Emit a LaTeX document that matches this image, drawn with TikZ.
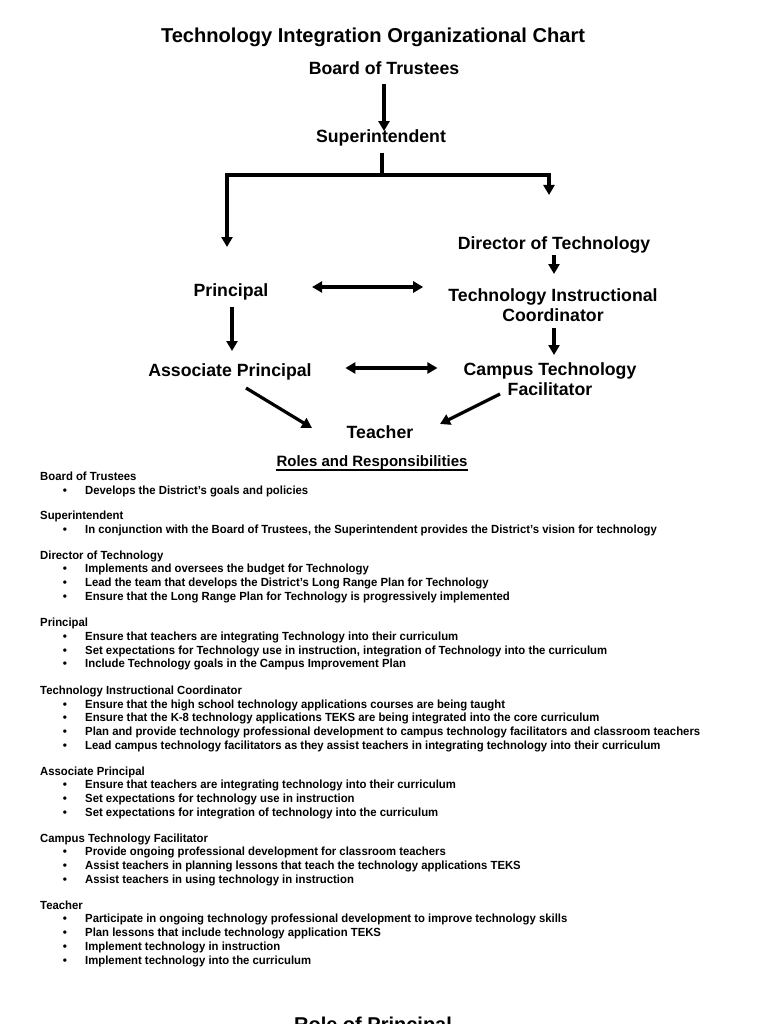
\documentclass[tikz,border=0pt]{standalone}
\usepackage{fontspec}
\setmainfont{Liberation Sans}
\newfontfamily\narrowf[FakeStretch=0.96]{Liberation Sans}
\usetikzlibrary{arrows.meta}
\tikzset{
  ch/.style={font=\fontsize{17.7}{20}\selectfont\bfseries, inner sep=0pt, text height=12.7pt, text depth=0pt, align=center},
  arr/.style={line width=3.2pt, -{Triangle[length=10pt,width=11pt]}},
  darr/.style={line width=3.2pt, {Triangle[length=10pt,width=11pt]}-{Triangle[length=10pt,width=11pt]}},
  plain/.style={line width=3.2pt},
  hd/.style={font=\narrowf\fontsize{11.8}{13}\selectfont\bfseries, anchor=west, inner sep=0pt, text height=8.5pt, text depth=0pt},
  bul/.style={font=\fontsize{11.8}{13}\selectfont\bfseries, anchor=center, inner sep=0pt, text height=8.5pt, text depth=0pt},
}
\begin{document}
\begin{tikzpicture}[x=1pt,y=-1pt]
\useasboundingbox (0,0) rectangle (768,1024);
\clip (0,0) rectangle (768,1024);
\fill[white] (0,0) rectangle (768,1024);

% title
\node[font=\fontsize{20.1}{22}\selectfont\bfseries, inner sep=0pt, text height=14.4pt, text depth=0pt] (title) at (373,35) {Technology Integration Organizational Chart};

% chart nodes
\node[ch] (bot) at (384,68) {Board of Trustees};
\node[ch] (sup) at (381,136) {Superintendent};
\node[ch] (dir) at (554,243) {Director of Technology};
\node[ch] (prin) at (231,290) {Principal};
\node[ch] (tic) at (553,315) {Technology Instructional\\Coordinator};
\node[ch] (ap) at (230,370) {Associate Principal};
\node[ch] (ctf) at (550,389) {Campus Technology\\Facilitator};
\node[ch] (tea) at (380,432) {Teacher};

% connectors
\draw[arr, shorten <=9.6pt, shorten >=-1.6pt] (bot.south) -- (bot.south |- sup.north);
\coordinate (j) at (382,175);
\coordinate (jl) at (227,175);
\coordinate (jr) at (549,175);
\coordinate (pl) at (227,247);
\coordinate (dr) at (549,195);
\draw[plain, shorten <=10pt] (sup.south -| j) -- (j);
\draw[arr] (j) -- (jl) -- (pl);
\draw[arr] (j) -- (jr) -- (dr);
\draw[arr, shorten <=5.6pt] (dir.south) -- (554,274);
\draw[darr, shorten <=43.5pt, shorten >=25pt] ([yshift=3pt]prin.east) -- ([yshift=3pt]prin.east -| tic.west);
\draw[arr, shorten <=6.6pt] (tic.south -| 554,0) -- (554,355);
\draw[arr, shorten <=10.6pt] (prin.south -| 232,0) -- (232,351);
\draw[darr, shorten <=33.5pt, shorten >=26pt] ([yshift=2pt]ap.east) -- ([yshift=2pt]ap.east -| ctf.west);
\coordinate (a1) at (246,388);
\coordinate (a2) at (312,428);
\coordinate (c1) at (500,394);
\coordinate (c2) at (440,424);
\draw[arr] (a1) -- (a2);
\draw[arr] (c1) -- (c2);

% roles heading
\node[font=\fontsize{15}{17}\selectfont\bfseries, inner sep=0pt, text height=10.7pt, text depth=0pt] (rr) at (372,461) {Roles and Responsibilities};
\draw[line width=1.5pt] ([yshift=-3.2pt]rr.south west) -- ([yshift=-3.2pt]rr.south east);

% body
\node[hd] (h1) at (40,476) {Board of Trustees};
\node[bul] (d1) at (65,490) {•};
\node[hd] (t1) at (85,490) {Develops the District’s goals and policies};

\node[hd] (h2) at (40,515) {Superintendent};
\node[bul] (d2) at (65,529) {•};
\node[hd] (t2) at (85,529) {In conjunction with the Board of Trustees, the Superintendent provides the District’s vision for technology};

\node[hd] (h3) at (40,555) {Director of Technology};
\node[bul] (d3a) at (65,568) {•};
\node[hd] (t3a) at (85,568) {Implements and oversees the budget for Technology};
\node[bul] (d3b) at (65,582) {•};
\node[hd] (t3b) at (85,582) {Lead the team that develops the District’s Long Range Plan for Technology};
\node[bul] (d3c) at (65,596) {•};
\node[hd] (t3c) at (85,596) {Ensure that the Long Range Plan for Technology is progressively implemented};

\node[hd] (h4) at (40,622) {Principal};
\node[bul] (d4a) at (65,636) {•};
\node[hd] (t4a) at (85,636) {Ensure that teachers are integrating Technology into their curriculum};
\node[bul] (d4b) at (65,650) {•};
\node[hd] (t4b) at (85,650) {Set expectations for Technology use in instruction, integration of Technology into the curriculum};
\node[bul] (d4c) at (65,663) {•};
\node[hd] (t4c) at (85,663) {Include Technology goals in the Campus Improvement Plan};

\node[hd] (h5) at (40,690) {Technology Instructional Coordinator};
\node[bul] (d5a) at (65,704) {•};
\node[hd] (t5a) at (85,704) {Ensure that the high school technology applications courses are being taught};
\node[bul] (d5b) at (65,717) {•};
\node[hd] (t5b) at (85,717) {Ensure that the K-8 technology applications TEKS are being integrated into the core curriculum};
\node[bul] (d5c) at (65,731) {•};
\node[hd] (t5c) at (85,731) {Plan and provide technology professional development to campus technology facilitators and classroom teachers};
\node[bul] (d5d) at (65,745) {•};
\node[hd] (t5d) at (85,745) {Lead campus technology facilitators as they assist teachers in integrating technology into their curriculum};

\node[hd] (h6) at (40,771) {Associate Principal};
\node[bul] (d6a) at (65,784) {•};
\node[hd] (t6a) at (85,784) {Ensure that teachers are integrating technology into their curriculum};
\node[bul] (d6b) at (65,798) {•};
\node[hd] (t6b) at (85,798) {Set expectations for technology use in instruction};
\node[bul] (d6c) at (65,812) {•};
\node[hd] (t6c) at (85,812) {Set expectations for integration of technology into the curriculum};

\node[hd] (h7) at (40,838) {Campus Technology Facilitator};
\node[bul] (d7a) at (65,851) {•};
\node[hd] (t7a) at (85,851) {Provide ongoing professional development for classroom teachers};
\node[bul] (d7b) at (65,865) {•};
\node[hd] (t7b) at (85,865) {Assist teachers in planning lessons that teach the technology applications TEKS};
\node[bul] (d7c) at (65,879) {•};
\node[hd] (t7c) at (85,879) {Assist teachers in using technology in instruction};

\node[hd] (h8) at (40,905) {Teacher};
\node[bul] (d8a) at (65,918) {•};
\node[hd] (t8a) at (85,918) {Participate in ongoing technology professional development to improve technology skills};
\node[bul] (d8b) at (65,932) {•};
\node[hd] (t8b) at (85,932) {Plan lessons that include technology application TEKS};
\node[bul] (d8c) at (65,946) {•};
\node[hd] (t8c) at (85,946) {Implement technology in instruction};
\node[bul] (d8d) at (65,960) {•};
\node[hd] (t8d) at (85,960) {Implement technology into the curriculum};

% cut-off heading at page bottom
\node[font=\fontsize{20}{22}\selectfont\bfseries, anchor=north, inner sep=0pt, text height=14.3pt, text depth=0pt] (rop) at (373,1017) {Role of Principal};
\end{tikzpicture}
\end{document}
